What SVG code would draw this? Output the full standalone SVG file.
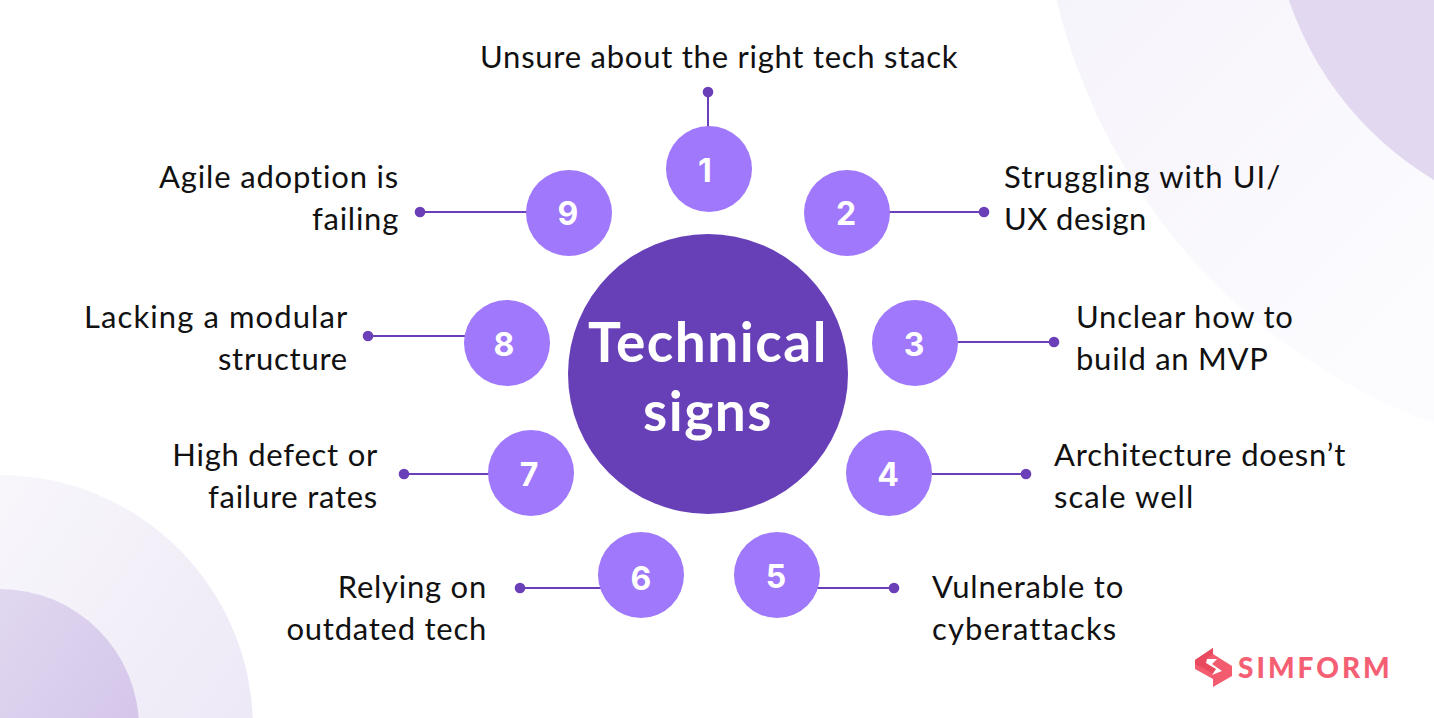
<svg xmlns="http://www.w3.org/2000/svg" width="1434" height="718" viewBox="0 0 1434 718">
<defs>
<linearGradient id="gTR" x1="0" y1="0" x2="1" y2="1"><stop offset="0.1" stop-color="#f2eff9"/><stop offset="0.6" stop-color="#fcfbfe"/></linearGradient>
<linearGradient id="gBL" x1="0" y1="0" x2="1" y2="0.7"><stop offset="0" stop-color="#fff"/><stop offset="1" stop-color="#ebe6f5"/></linearGradient>
<linearGradient id="gBL2" x1="0" y1="0" x2="1" y2="0.7"><stop offset="0" stop-color="#e8e2f3"/><stop offset="1" stop-color="#d2c3e9"/></linearGradient>
</defs>
<style>
.l{font-size:31px;fill:#111;font-family:Lato,"Noto Sans",sans-serif;letter-spacing:.75px}
.e{text-anchor:end}
.n{fill:#a078fb}
.d{font-size:32px;font-weight:700;fill:#fff;text-anchor:middle;font-family:Inter,sans-serif}
.t{font-size:55px;font-weight:700;fill:#fff;text-anchor:middle;font-family:Lato,sans-serif;letter-spacing:1.5px}
#connectors line{stroke:#6a3fb8;stroke-width:2}
#connectors circle{fill:#6a3fb8}
</style>
<rect width="1434" height="718" fill="#fff"/>
<circle cx="1640" cy="-140" r="600" fill="url(#gTR)"/>
<circle cx="1607" cy="-108" r="336" fill="#e2d9f1"/>
<circle cx="0" cy="728" r="253" fill="url(#gBL)"/>
<circle cx="0" cy="728" r="139" fill="url(#gBL2)"/>
<g id="connectors">
<line x1="708" y1="92" x2="708" y2="130"/><circle cx="708" cy="92" r="5.3"/>
<line x1="886" y1="212" x2="984" y2="212"/><circle cx="984" cy="212" r="5.3"/>
<line x1="955" y1="342" x2="1054" y2="342"/><circle cx="1054" cy="342" r="5.3"/>
<line x1="928" y1="474" x2="1026" y2="474"/><circle cx="1026" cy="474" r="5.3"/>
<line x1="816" y1="588" x2="894" y2="588"/><circle cx="894" cy="588" r="5.3"/>
<line x1="520" y1="588" x2="602" y2="588"/><circle cx="520" cy="588" r="5.3"/>
<line x1="404" y1="474" x2="492" y2="474"/><circle cx="404" cy="474" r="5.3"/>
<line x1="368" y1="336" x2="468" y2="336"/><circle cx="368" cy="336" r="5.3"/>
<line x1="420" y1="212" x2="530" y2="212"/><circle cx="420" cy="212" r="5.3"/>
</g>
<g id="center"><circle cx="708" cy="374" r="140" fill="#673fb6"/>
<text class="t" x="708" y="362">Technical</text>
<text class="t" x="708" y="431">signs</text></g>
<g id="node1"><circle class="n" cx="709" cy="169" r="43"/><text class="d" x="705" y="182">1</text><text class="l" x="480" y="68">Unsure about the right tech stack</text></g>
<g id="node2"><circle class="n" cx="847" cy="213" r="43"/><text class="d" x="846" y="225">2</text><text class="l" x="1004" y="188" textLength="277">Struggling with UI/</text><text class="l" x="1004" y="230" textLength="143">UX design</text></g>
<g id="node3"><circle class="n" cx="915" cy="343" r="43"/><text class="d" x="914" y="356">3</text><text class="l" x="1076" y="328">Unclear how to</text><text class="l" x="1076" y="370">build an MVP</text></g>
<g id="node4"><circle class="n" cx="889" cy="473" r="43"/><text class="d" x="888" y="486">4</text><text class="l" x="1054" y="466" textLength="292">Architecture doesn’t</text><text class="l" x="1054" y="508" textLength="140">scale well</text></g>
<g id="node5"><circle class="n" cx="777" cy="575" r="43"/><text class="d" x="776" y="588">5</text><text class="l" x="932" y="598" textLength="192">Vulnerable to</text><text class="l" x="932" y="640" textLength="185">cyberattacks</text></g>
<g id="node6"><circle class="n" cx="641" cy="575" r="43"/><text class="d" x="641" y="590">6</text><text class="l e" x="487" y="598">Relying on</text><text class="l e" x="487" y="640">outdated tech</text></g>
<g id="node7"><circle class="n" cx="531" cy="473" r="43"/><text class="d" x="529" y="486">7</text><text class="l e" x="378" y="466">High defect or</text><text class="l e" x="378" y="508">failure rates</text></g>
<g id="node8"><circle class="n" cx="507" cy="343" r="43"/><text class="d" x="504" y="356">8</text><text class="l e" x="348" y="328" textLength="264">Lacking a modular</text><text class="l e" x="348" y="370">structure</text></g>
<g id="node9"><circle class="n" cx="569" cy="213" r="43"/><text class="d" x="568" y="225">9</text><text class="l e" x="399" y="188" textLength="240">Agile adoption is</text><text class="l e" x="399" y="230">failing</text></g>
<g id="logo"><path d="M1195 660L1213 648V654L1232 666V676L1213 687V679L1195 669Z" fill="#f25c6e"/><path d="M1195 660L1213 648V654L1206 659L1220 671L1214 674L1195 664Z" fill="#e94a5e"/><path d="M1207 659H1217L1212 664L1222 671L1212 675L1216 669L1206 663Z" fill="#fff"/><text x="1238" y="678" font-size="28" font-weight="900" fill="#f55f73" letter-spacing="3" style="font-family:Lato,sans-serif">SIMFORM</text></g>
</svg>
